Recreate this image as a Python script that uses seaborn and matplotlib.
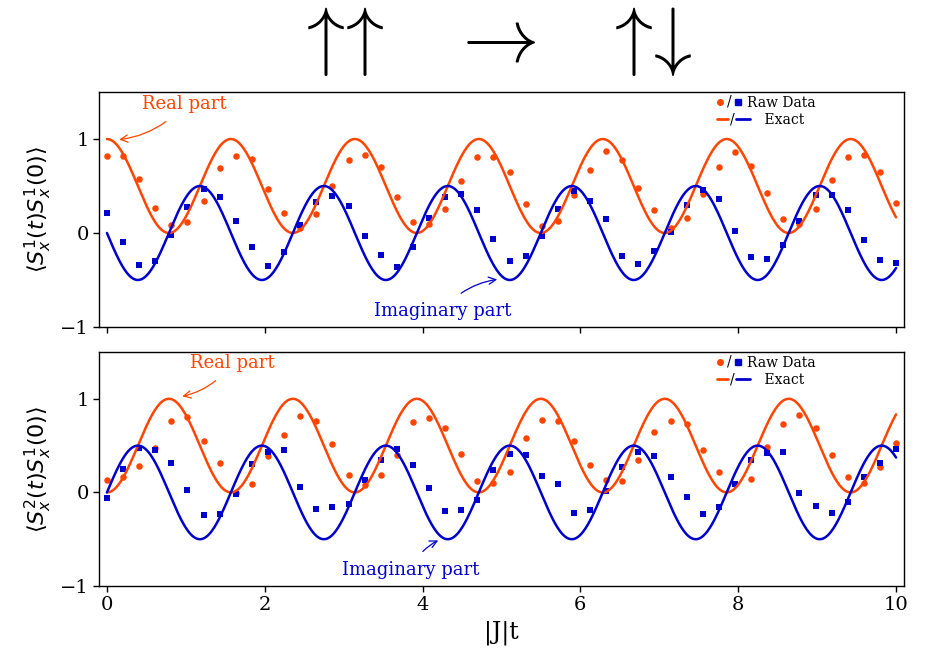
import numpy as np
import pandas as pd
import matplotlib
matplotlib.use("Agg")
import matplotlib.pyplot as plt
import seaborn as sns
from matplotlib.legend_handler import HandlerBase
from matplotlib.lines import Line2D
from matplotlib.text import Text

# ---------------- data ----------------
t_min, t_max, n_raw = 0.0, 10.0, 50
omega = 4.0          # oscillation frequency of exact solution
amp = 0.5            # amplitude of exact solution

top_real = [0.815, 0.82, 0.573, 0.27, 0.085, 0.12, 0.345, 0.69, 0.815, 0.787, 0.466, 0.21, 0.05,
            0.206, 0.495, 0.772, 0.826, 0.70, 0.38, 0.12, 0.093, 0.253, 0.55, 0.808, 0.804,
            0.651, 0.313, 0.078, 0.125, 0.406, 0.673, 0.875, 0.779, 0.477, 0.242, 0.053, 0.16, 0.41,
            0.705, 0.861, 0.708, 0.423, 0.149, 0.093, 0.26, 0.562, 0.804, 0.829, 0.648, 0.324]
top_imag = [0.21, -0.10, -0.338, -0.30, -0.018, 0.274, 0.466, 0.384, 0.13, -0.153, -0.349, -0.20, 0.08,
            0.327, 0.39, 0.285, -0.028, -0.235, -0.36, -0.15, 0.16, 0.384, 0.416, 0.245, -0.068,
            -0.295, -0.25, -0.028, 0.26, 0.452, 0.342, 0.15, -0.245, -0.327, -0.19, 0.014, 0.30, 0.455,
            0.367, 0.025, -0.26, -0.28, -0.13, 0.13, 0.406, 0.406, 0.245, -0.075, -0.288, -0.317]
bot_real = [0.128, 0.164, 0.285, 0.47, 0.765, 0.808, 0.548, 0.313, -0.007, 0.085, 0.388, 0.609, 0.819,
            0.758, 0.52, 0.185, 0.075, 0.185, 0.399, 0.747, 0.797, 0.69, 0.413, 0.121, 0.10,
            0.214, 0.584, 0.772, 0.762, 0.544, 0.295, 0.132, 0.117, 0.345, 0.641, 0.765, 0.73, 0.456,
            0.22, 0.089, 0.142, 0.48, 0.73, 0.826, 0.69, 0.399, 0.167, 0.10, 0.267, 0.527]
bot_imag = [-0.057, 0.253, 0.473, 0.455, 0.317, 0.025, -0.245, -0.228, -0.014, 0.306, 0.427, 0.452, 0.06,
            -0.18, -0.16, -0.125, 0.128, 0.349, 0.466, 0.295, 0.05, -0.196, -0.192, -0.078, 0.235,
            0.413, 0.40, 0.171, 0.089, -0.22, -0.185, 0.01, 0.27, 0.427, 0.388, 0.164, -0.05, -0.23,
            -0.153, 0.093, 0.349, 0.416, 0.43, -0.01, -0.142, -0.224, -0.107, 0.16, 0.317, 0.466]

x_ticks = [0, 2, 4, 6, 8, 10]
y_ticks = [-1, 0, 1]
y_labels = [r"$\langle S_x^1(t)S_x^1(0)\rangle$", r"$\langle S_x^2(t)S_x^1(0)\rangle$"]
x_label = "|J|t"
title_groups = [r"$\uparrow\!\!\!\!\;\uparrow$", r"$\rightarrow$", r"$\uparrow\!\!\!\!\;\downarrow$"]

ORANGE = "#FF4500"
BLUE = "#0000CD"

t_raw = np.linspace(t_min, t_max, n_raw)
t_ex = np.linspace(t_min, t_max, 1000)
exact_top_real = amp + amp * np.cos(omega * t_ex)
exact_top_imag = -amp * np.sin(omega * t_ex)
exact_bot_real = amp - amp * np.cos(omega * t_ex)
exact_bot_imag = amp * np.sin(omega * t_ex)

raw_top = pd.DataFrame({"t": t_raw, "re": top_real, "im": top_imag})
raw_bot = pd.DataFrame({"t": t_raw, "re": bot_real, "im": bot_imag})
ex_top = pd.DataFrame({"t": t_ex, "re": exact_top_real, "im": exact_top_imag})
ex_bot = pd.DataFrame({"t": t_ex, "re": exact_bot_real, "im": exact_bot_imag})

# ---------------- style ----------------
sns.set_style("ticks")
plt.rcParams["font.family"] = ["DejaVu Serif"]
plt.rcParams["mathtext.fontset"] = "dejavusans"
plt.rcParams["axes.edgecolor"] = "black"
plt.rcParams["axes.labelcolor"] = "black"
plt.rcParams["text.color"] = "black"
plt.rcParams["axes.linewidth"] = 1.0
plt.rcParams["xtick.color"] = "black"
plt.rcParams["ytick.color"] = "black"
plt.rcParams["xtick.labelcolor"] = "black"
plt.rcParams["ytick.labelcolor"] = "black"


class SlashPair(HandlerBase):
    def __init__(self, is_line, **kw):
        super().__init__(**kw)
        self.is_line = is_line

    def create_artists(self, legend, orig_handle, xd, yd, width, height, fontsize, trans):
        a, b = orig_handle
        y = height / 2 - yd
        x0 = -xd
        arts = []
        if self.is_line:
            arts.append(Line2D([x0, x0 + 0.42 * width], [y, y], color=a.get_color(), lw=2))
            arts.append(Text(x0 + 0.57 * width, y, "/", ha="center", va="center",
                             fontsize=fontsize, family="DejaVu Serif", color="black"))
            arts.append(Line2D([x0 + 0.73 * width, x0 + 1.25 * width], [y, y], color=b.get_color(), lw=2))
        else:
            arts.append(Line2D([x0 + 0.12 * width], [y], marker="o", ms=4, color=a.get_color(), ls=""))
            arts.append(Text(x0 + 0.47 * width, y, "/", ha="center", va="center",
                             fontsize=fontsize, family="DejaVu Serif", color="black"))
            arts.append(Line2D([x0 + 0.8 * width], [y], marker="s", ms=4, color=b.get_color(), ls=""))
        for art in arts:
            art.set_transform(trans)
        return arts


fig = plt.figure(figsize=(9.3, 6.55), dpi=100)
ax1 = fig.add_axes([0.1065, 0.5008, 0.8655, 0.3587])
ax2 = fig.add_axes([0.1065, 0.1053, 0.8655, 0.3573], sharex=ax1)

for ax, raw, ex, ylab in [(ax1, raw_top, ex_top, y_labels[0]), (ax2, raw_bot, ex_bot, y_labels[1])]:
    sns.lineplot(data=ex, x="t", y="re", ax=ax, color=ORANGE, lw=1.8)
    sns.lineplot(data=ex, x="t", y="im", ax=ax, color=BLUE, lw=1.8)
    sns.scatterplot(data=raw, x="t", y="re", ax=ax, color=ORANGE, marker="o", s=22, linewidth=0)
    sns.scatterplot(data=raw, x="t", y="im", ax=ax, color=BLUE, marker="s", s=22, linewidth=0)
    ax.set_xlim(-0.1, 10.1)
    ax.set_ylim(-1, 1.5)
    ax.set_yticks(y_ticks)
    ax.set_xticks(x_ticks)
    ax.set_ylabel(ylab, fontsize=16, color="black")
    ax.set_xlabel("")
    ax.tick_params(axis="both", labelsize=14, length=4, width=1, direction="out",
                   colors="black", labelcolor="black")
    for s in ax.spines.values():
        s.set_visible(True)
        s.set_color("black")

    h_raw = (Line2D([], [], color=ORANGE, marker="o", ls=""), Line2D([], [], color=BLUE, marker="s", ls=""))
    h_ex = (Line2D([], [], color=ORANGE), Line2D([], [], color=BLUE))
    ax.legend([h_raw, h_ex], ["Raw Data", "    Exact"],
              handler_map={h_raw: SlashPair(False), h_ex: SlashPair(True)},
              loc="upper left", bbox_to_anchor=(0.768, 0.985), frameon=False,
              fontsize=10, handlelength=1.9, handletextpad=0.25, borderpad=0,
              borderaxespad=0, labelspacing=0.25, labelcolor="black")

plt.setp(ax1.get_xticklabels(), visible=False)
ax2.set_xlabel(x_label, fontsize=17, color="black")

# annotations
ax1.annotate("Real part", xy=(0.12, 0.99), xytext=(0.985, 1.37), color=ORANGE, fontsize=13,
             ha="center", va="center",
             arrowprops=dict(arrowstyle="->", color=ORANGE, lw=0.9, shrinkA=6,
                             connectionstyle="arc3,rad=-0.2"))
ax1.annotate("Imaginary part", xy=(4.98, -0.49), xytext=(4.25, -0.825), color=BLUE, fontsize=13,
             ha="center", va="center",
             arrowprops=dict(arrowstyle="->", color=BLUE, lw=0.9, shrinkA=6,
                             connectionstyle="arc3,rad=-0.2"))
ax2.annotate("Real part", xy=(0.92, 1.02), xytext=(1.59, 1.384), color=ORANGE, fontsize=13,
             ha="center", va="center",
             arrowprops=dict(arrowstyle="->", color=ORANGE, lw=0.9, shrinkA=6,
                             connectionstyle="arc3,rad=-0.2"))
ax2.annotate("Imaginary part", xy=(4.23, -0.50), xytext=(3.85, -0.83), color=BLUE, fontsize=13,
             ha="center", va="center",
             arrowprops=dict(arrowstyle="->", color=BLUE, lw=0.9, shrinkA=6,
                             connectionstyle="arc3,rad=-0.2"))

# title arrows
for xpix, txt in zip([339, 493, 647], title_groups):
    fig.text(xpix / 930, 1 - 41 / 655, txt, ha="center", va="center", fontsize=55,
             math_fontfamily="cm", color="black")

fig.savefig("out.png", dpi=100)
